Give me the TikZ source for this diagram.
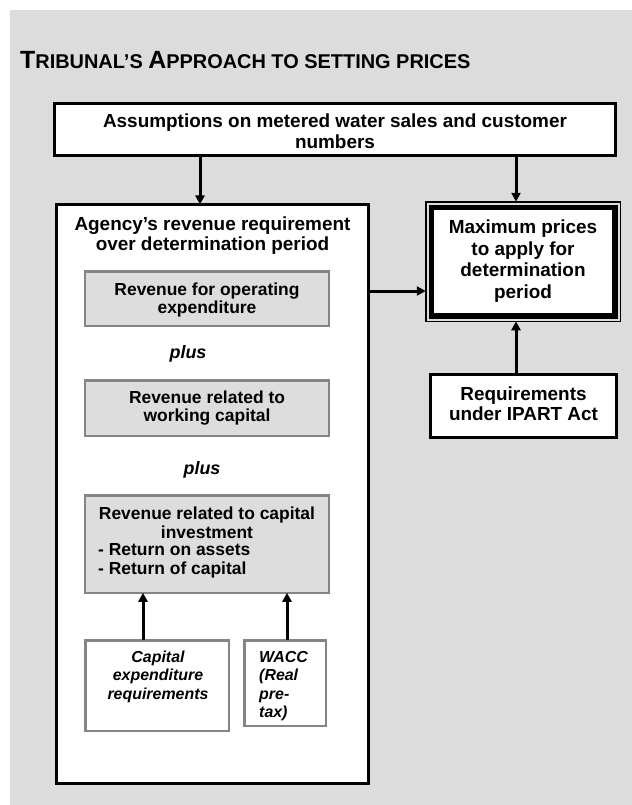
\documentclass[tikz,border=0pt]{standalone}
\usepackage{fontspec}
\setmainfont{Liberation Sans}
\usetikzlibrary{arrows.meta,calc}
\definecolor{bggray}{HTML}{DCDCDC}
\definecolor{boxgray}{HTML}{DDDDDD}
\definecolor{edgegray}{HTML}{858585}
\begin{document}
\begin{tikzpicture}[x=1bp,y=-1bp,
  blackbox/.style={draw=black,line width=3bp,fill=white,inner sep=0,outer sep=0},
  graybox/.style={draw=edgegray,line width=2.5bp,fill=boxgray,inner sep=0,outer sep=0},
  lightbox/.style={draw=edgegray,line width=2.5bp,fill=white,inner sep=0,outer sep=0},
  arr/.style={line width=3bp,-{Triangle[length=9bp,width=9bp]}},
  bigtxt/.style={font=\bfseries\fontsize{19}{21}\selectfont,align=center,inner sep=0},
  midtxt/.style={font=\bfseries\fontsize{17.5}{19}\selectfont,align=center,inner sep=0},
  plustxt/.style={font=\bfseries\itshape\fontsize{18}{20}\selectfont,inner sep=0},
  smalltxt/.style={font=\bfseries\itshape\fontsize{16}{18.6}\selectfont,inner sep=0}
]
\useasboundingbox (0,0) rectangle (632,805);
\fill[bggray] (10,10) rectangle (632,805);

% title
\node[anchor=base west,inner sep=0,font=\bfseries] (title) at (20,69)
  {{\fontsize{25}{25}\selectfont T}{\fontsize{20}{20}\selectfont RIBUNAL’S }{\fontsize{25}{25}\selectfont A}{\fontsize{20}{20}\selectfont PPROACH TO SETTING PRICES}};

% boxes
\node[blackbox,minimum width=561bp,minimum height=52bp] (top) at (335,129.5) {};
\node[blackbox,minimum width=312bp,minimum height=579bp] (big) at (212.5,494) {};
\node[graybox,minimum width=243.5bp,minimum height=54.5bp] (g1) at (207,298.5) {};
\node[graybox,minimum width=243.5bp,minimum height=55.5bp] (g2) at (207,408) {};
\node[graybox,minimum width=243.5bp,minimum height=97.5bp] (g3) at (207,544) {};
\node[lightbox,minimum width=143.5bp,minimum height=90.5bp] (capex) at (157,685.5) {};
\node[lightbox,minimum width=81.5bp,minimum height=85.5bp] (wacc) at (285,683) {};
\node[draw=black,line width=1.5bp,fill=bggray,inner sep=0,outer sep=0,minimum width=194.5bp,minimum height=119.5bp] (maxo) at (523,261.5) {};
\node[draw=black,line width=5.5bp,fill=white,inner sep=0,outer sep=0,minimum width=183.5bp,minimum height=108.5bp] (maxi) at (523,261.5) {};
\node[blackbox,minimum width=186bp,minimum height=63bp] (req) at (523.5,406) {};

% texts
\node[bigtxt] (ttop) at (335,131) {Assumptions on metered water sales and customer\\numbers};
\node[bigtxt,font=\bfseries\fontsize{19}{20}\selectfont] (tbig) at (212.5,236) {Agency’s revenue requirement\\over determination period};
\node[midtxt] (tg1) at (207,300) {Revenue for operating\\expenditure};
\node[plustxt] (p1) at (188,354) {plus};
\node[midtxt] (tg2) at (207,408) {Revenue related to\\working capital};
\node[plustxt] (p2) at (202,470) {plus};
\node[midtxt] (tg3a) at (207,523) {Revenue related to capital\\investment};
\node[midtxt,align=left,anchor=west] (tg3b) at (98,561) {- Return on assets\\- Return of capital};
\node[smalltxt,align=center] (tcapex) at (158,676.5) {Capital\\expenditure\\requirements};
\node[smalltxt,align=left,anchor=west] (twacc) at (259,686) {WACC\\(Real\\pre-\\tax)};
\node[bigtxt,font=\bfseries\fontsize{19}{21.5}\selectfont] (tmax) at (523,261) {Maximum prices\\to apply for\\determination\\period};
\node[bigtxt,font=\bfseries\fontsize{19}{20}\selectfont] (treq) at (523.5,404) {Requirements\\under IPART Act};

% connectors
\coordinate (a1) at (200,0);
\coordinate (a2) at (516,0);
\coordinate (a3) at (0,291);
\coordinate (a4) at (143,0);
\coordinate (a5) at (287,0);
\draw[arr] (top.south -| a1) -- (big.north -| a1);
\draw[arr] (top.south -| a2) -- (maxo.north -| a2);
\draw[arr] (req.north -| a2) -- (maxo.south -| a2);
\draw[arr] (big.east |- a3) -- (maxo.west |- a3);
\draw[arr] (capex.north -| a4) -- (g3.south -| a4);
\draw[arr] (wacc.north -| a5) -- (g3.south -| a5);
\end{tikzpicture}
\end{document}
